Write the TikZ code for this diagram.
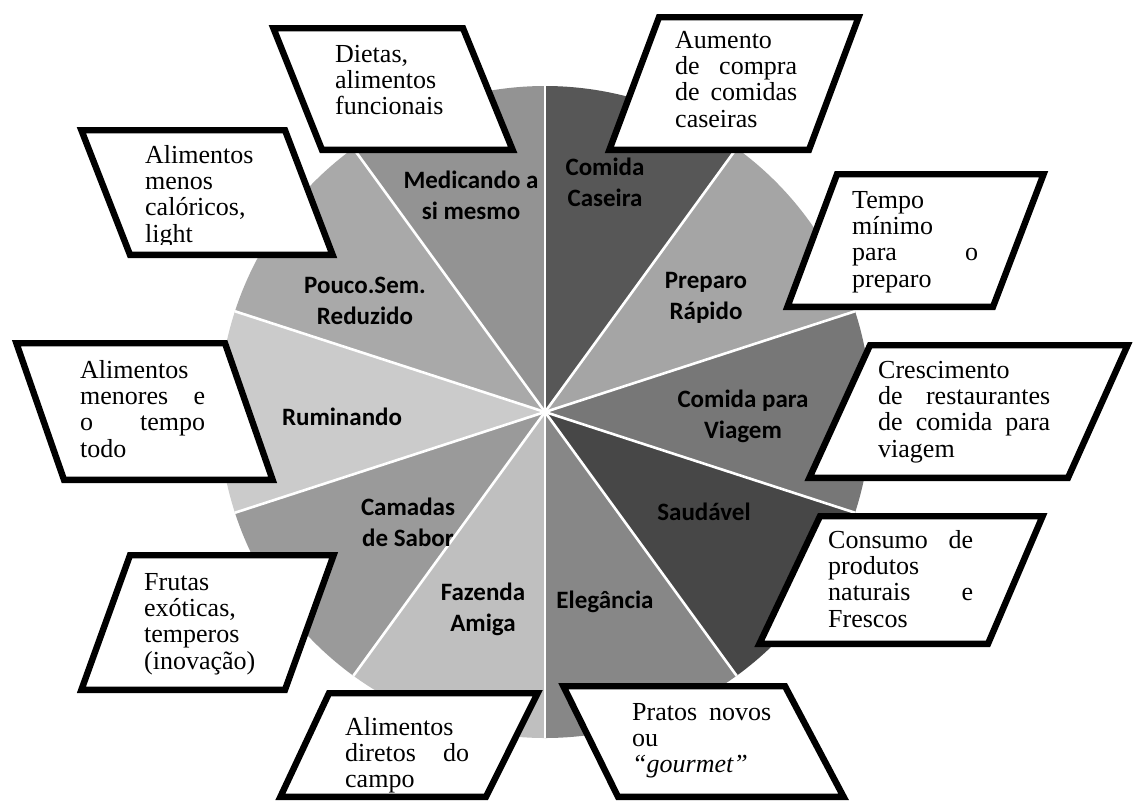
\documentclass[tikz,border=0pt]{standalone}
\usepackage{fontspec}
\setmainfont{Liberation Serif}
\newfontfamily\piefamily{Carlito}

\definecolor{shMedic}{HTML}{939393}
\definecolor{shPouco}{HTML}{A9A9A9}
\definecolor{shRumin}{HTML}{CBCBCB}
\definecolor{shCamad}{HTML}{9A9A9A}
\definecolor{shFazen}{HTML}{BFBFBF}
\definecolor{shElega}{HTML}{878787}
\definecolor{shSauda}{HTML}{474747}
\definecolor{shViage}{HTML}{777777}
\definecolor{shPrepa}{HTML}{A5A5A5}
\definecolor{shCasei}{HTML}{575757}

% parallelogram leaning like "\" : top-left x, top-right x, top y, bottom-left x, bottom-right x, bottom y
\newcommand\cardleanleft[6]{%
  \draw[cardbox] (#1+4.4,#3+3.2) -- (#2-2,#3+3.2) -- (#5-4.4,#6-3.2) -- (#4+2,#6-3.2) -- cycle;}
% parallelogram leaning like "/"
\newcommand\cardleanright[6]{%
  \draw[cardbox] (#1+2,#3+3.2) -- (#2-4.4,#3+3.2) -- (#5-2,#6-3.2) -- (#4+4.4,#6-3.2) -- cycle;}
\newcommand\spreadline[2]{\makebox[#1pt][s]{#2}}

\begin{document}
\begin{tikzpicture}[x=1pt,y=-1pt,
  slicetext/.style={font=\piefamily\bfseries\fontsize{25}{31}\selectfont, anchor=base, inner sep=0pt},
  cardtext/.style={font=\fontsize{26}{26.4}\selectfont, anchor=base west, inner sep=0pt},
  cardbox/.style={draw=black, fill=white, line width=6.4pt, line join=miter, miter limit=10},
  divider/.style={white, line width=2.6pt}]
\useasboundingbox (0,0) rectangle (1135,801);

% pie of ten equal sectors
\coordinate (ctr) at (545,412);
\begin{scope}[shift={(ctr)}, x=1pt, y=1pt]
  \foreach \a/\c in {90/shMedic,126/shPouco,162/shRumin,198/shCamad,234/shFazen,
                     270/shElega,306/shSauda,342/shViage,18/shPrepa,54/shCasei}{
    \fill[\c] (0,0) -- (\a:326pt) arc[start angle=\a, delta angle=36, radius=326pt] -- cycle;
  }
  \foreach \a in {18,54,...,342}{
    \draw[divider] (0,0) -- (\a:326pt);
  }
\end{scope}

% sector labels
\node[slicetext] (lMedic) at (471,188) {\begin{tabular}[t]{@{}c@{}}Medicando a\\ si mesmo\end{tabular}};
\node[slicetext] (lCasei) at (605,175) {\begin{tabular}[t]{@{}c@{}}Comida\\ Caseira\end{tabular}};
\node[slicetext] (lPouco) at (365,293) {\begin{tabular}[t]{@{}c@{}}Pouco.Sem.\\ Reduzido\end{tabular}};
\node[slicetext] (lPrepa) at (706,288) {\begin{tabular}[t]{@{}c@{}}Preparo\\ Rápido\end{tabular}};
\node[slicetext] (lRumin) at (342,425) {Ruminando};
\node[slicetext] (lViage) at (743,407) {\begin{tabular}[t]{@{}c@{}}Comida para\\ Viagem\end{tabular}};
\node[slicetext] (lCamad) at (408,515) {\begin{tabular}[t]{@{}c@{}}Camadas\\ de Sabor\end{tabular}};
\node[slicetext] (lSauda) at (704,520) {Saudável};
\node[slicetext] (lFazen) at (483,600) {\begin{tabular}[t]{@{}c@{}}Fazenda\\ Amiga\end{tabular}};
\node[slicetext] (lElega) at (605,608) {Elegância};

% surrounding cards
\cardleanleft{269}{465}{25}{320}{517}{153}
\cardleanleft{77}{287}{127}{128}{337}{258}
\cardleanleft{12}{227}{340}{62}{277}{483}
\cardleanleft{559}{787}{683}{616}{848}{800}
\cardleanright{657}{863}{14}{605}{811}{153}
\cardleanright{835}{1048}{171}{783}{995}{310}
\cardleanright{868}{1132}{342}{805}{1070}{481}
\cardleanright{818}{1047}{513}{755}{990}{647}
\cardleanright{128}{338}{552}{77}{287}{693}
\cardleanright{327}{542}{690}{276}{488}{800}

% card texts
\node[cardtext] (tDietas) at (335,62) {\begin{tabular}[t]{@{}l@{}}Dietas,\\ alimentos\\ funcionais\end{tabular}};
\begin{scope}
  \clip (100,130) rectangle (340,244.5);
  \node[cardtext] (tMenos) at (145,163) {\begin{tabular}[t]{@{}l@{}}Alimentos\\ menos\\ calóricos,\\ light\end{tabular}};
\end{scope}
\node[cardtext] (tMenores) at (80,378) {\begin{tabular}[t]{@{}l@{}}Alimentos\\ \spreadline{125}{menores e}\\ \spreadline{125}{o tempo}\\ todo\end{tabular}};
\node[cardtext] (tFrutas) at (144,590) {\begin{tabular}[t]{@{}l@{}}Frutas\\ exóticas,\\ temperos\\ (inovação)\end{tabular}};
\node[cardtext] (tDiretos) at (345,735) {\begin{tabular}[t]{@{}l@{}}Alimentos\\ \spreadline{124}{diretos do}\\ campo\end{tabular}};
\node[cardtext] (tPratos) at (632,720) {\begin{tabular}[t]{@{}l@{}}\spreadline{139}{Pratos novos}\\ ou\\ \textit{“gourmet”}\end{tabular}};
\node[cardtext] (tAumento) at (675,48) {\begin{tabular}[t]{@{}l@{}}Aumento\\ \spreadline{122}{de compra}\\ \spreadline{122}{de comidas}\\ caseiras\end{tabular}};
\node[cardtext] (tTempo) at (852,208) {\begin{tabular}[t]{@{}l@{}}Tempo\\ mínimo\\ \spreadline{126}{para o}\\ preparo\end{tabular}};
\node[cardtext] (tCresc) at (878,378) {\begin{tabular}[t]{@{}l@{}}Crescimento\\ \spreadline{172}{de restaurantes}\\ \spreadline{172}{de comida para}\\ viagem\end{tabular}};
\node[cardtext] (tConsumo) at (828,548) {\begin{tabular}[t]{@{}l@{}}\spreadline{145}{Consumo de}\\ produtos\\ \spreadline{145}{naturais e}\\ Frescos\end{tabular}};
\end{tikzpicture}
\end{document}
